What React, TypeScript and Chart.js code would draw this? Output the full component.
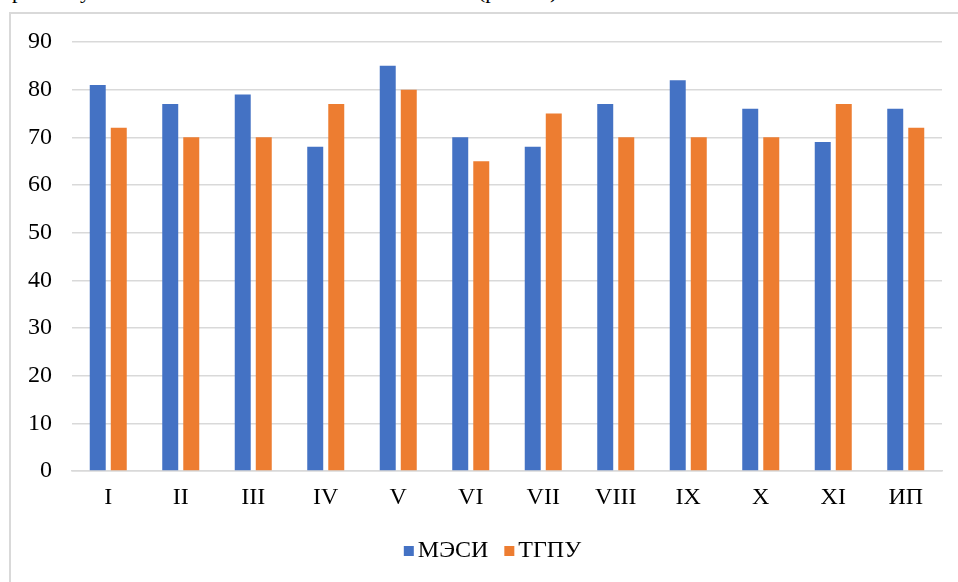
import React, { useEffect, useRef } from "react";
import { Chart, registerables } from "chart.js";

Chart.register(...registerables);

const categories = ["I", "II", "III", "IV", "V", "VI", "VII", "VIII", "IX", "X", "XI", "ИП"];
const mesiValues = [81, 77, 79, 68, 85, 70, 68, 77, 82, 76, 69, 76];
const tgpuValues = [72, 70, 70, 77, 80, 65, 75, 70, 70, 70, 77, 72];
const seriesNames = ["МЭСИ", "ТГПУ"];
const seriesColors = ["#4472C4", "#ED7D31"];
const yTicks = [0, 10, 20, 30, 40, 50, 60, 70, 80, 90];

const FONT = "'Liberation Serif', 'Times New Roman', serif";

const legendPlugin = {
  id: "officeLegend",
  afterDraw(chart: any) {
    const ctx = chart.ctx;
    const box = 10;
    const gapText = 4;
    const gapItem = 16;
    ctx.save();
    ctx.font = `24px ${FONT}`;
    ctx.textBaseline = "middle";
    ctx.textAlign = "left";
    const items = chart.data.datasets.map((d: any) => ({
      label: d.label,
      color: d.backgroundColor,
      w: ctx.measureText(d.label).width,
    }));
    let total = 0;
    items.forEach((it: any, i: number) => {
      total += box + gapText + it.w + (i > 0 ? gapItem : 0);
    });
    let x = chart.width / 2 - total / 2;
    const y = 537;
    items.forEach((it: any, i: number) => {
      if (i > 0) x += gapItem;
      ctx.fillStyle = it.color;
      ctx.fillRect(x, y - box / 2, box, box);
      x += box + gapText;
      ctx.fillStyle = "#000";
      ctx.fillText(it.label, x, y);
      x += it.w;
    });
    ctx.restore();
  },
};

export default function App() {
  const canvasRef = useRef<HTMLCanvasElement | null>(null);

  useEffect(() => {
    if (!canvasRef.current) return;
    const chart = new Chart(canvasRef.current, {
      type: "bar",
      data: {
        labels: categories,
        datasets: [
          {
            label: seriesNames[0],
            data: mesiValues,
            backgroundColor: seriesColors[0],
            categoryPercentage: 0.58,
            barPercentage: 0.76,
          },
          {
            label: seriesNames[1],
            data: tgpuValues,
            backgroundColor: seriesColors[1],
            categoryPercentage: 0.58,
            barPercentage: 0.76,
          },
        ],
      },
      plugins: [legendPlugin],
      options: {
        animation: false,
        responsive: false,
        maintainAspectRatio: false,
        layout: { padding: { top: 28, right: 32, left: 0, bottom: 48 } },
        plugins: {
          tooltip: { enabled: false },
          legend: { display: false },
        },
        scales: {
          x: {
            grid: { display: false, drawTicks: false },
            border: { color: "#d9d9d9", width: 1.5 },
            ticks: {
              color: "#000",
              padding: 12,
              font: { family: FONT, size: 24 },
              maxRotation: 0,
            },
            afterFit: (s: any) => {
              s.height = 55;
            },
          },
          y: {
            min: 0,
            max: 90,
            afterBuildTicks: (s: any) => {
              s.ticks = yTicks.map((v) => ({ value: v }));
            },
            grid: { color: "#d9d9d9", lineWidth: 1.5, drawTicks: false },
            border: { display: false },
            ticks: {
              color: "#000",
              padding: 20,
              font: { family: FONT, size: 24 },
            },
            afterFit: (s: any) => {
              s.width = 61;
              s.paddingTop = 0;
              s.paddingBottom = 0;
            },
          },
        },
      },
    });
    return () => chart.destroy();
  }, []);

  const frag = (text: string, left: number) => (
    <span
      style={{
        position: "absolute",
        left,
        top: -20,
        fontFamily: FONT,
        fontSize: 22,
        lineHeight: "22px",
        color: "#000",
        whiteSpace: "pre",
      }}
    >
      {text}
    </span>
  );

  return (
    <div
      style={{
        position: "fixed",
        left: 0,
        top: 0,
        width: 958,
        height: 582,
        overflow: "hidden",
        background: "#fff",
      }}
    >
      {frag("р", 12)}
      {frag("у", 80)}
      {frag("(р", 478)}
      {frag(")", 550)}
      <div
        style={{
          position: "absolute",
          left: 9,
          top: 12,
          width: 1000,
          height: 640,
          border: "2px solid #d9d9d9",
          boxSizing: "border-box",
        }}
      />
      <canvas
        ref={canvasRef}
        width={963}
        height={560}
        style={{ position: "absolute", left: 11, top: 14, width: 963, height: 560 }}
      />
    </div>
  );
}
